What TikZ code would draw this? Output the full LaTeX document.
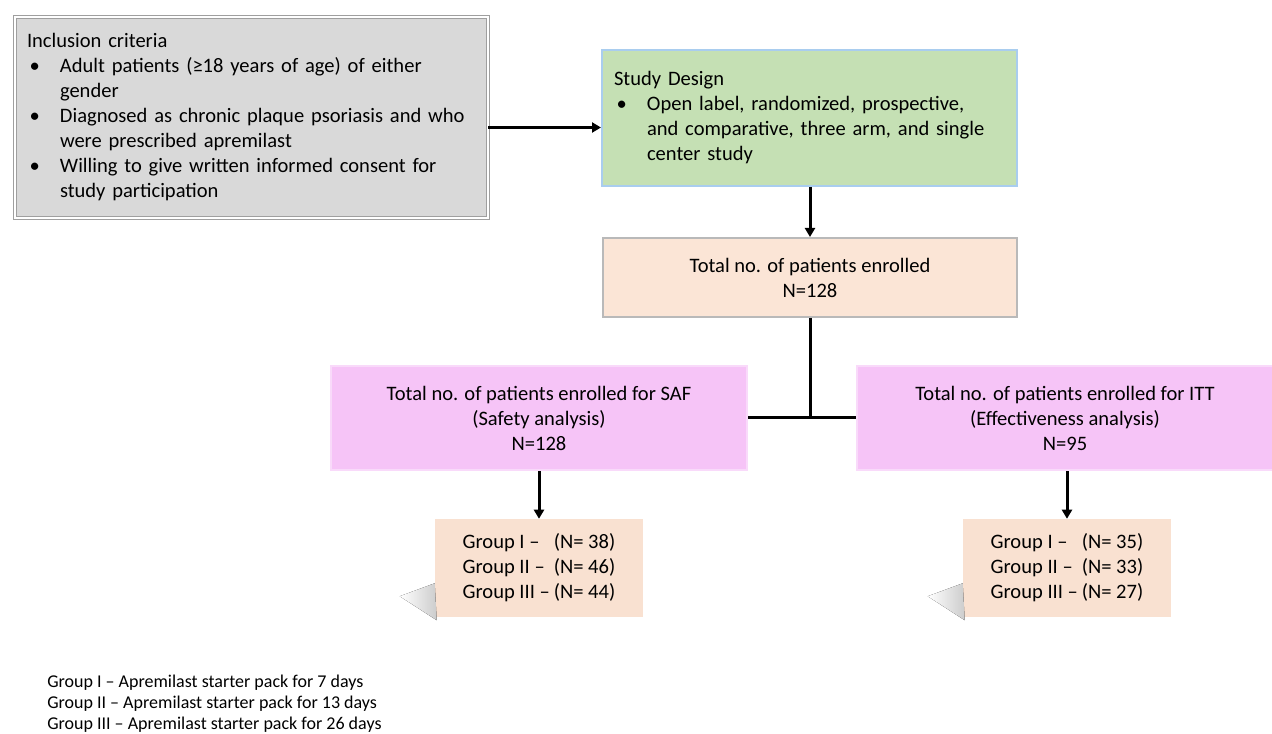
\documentclass[tikz,border=0pt]{standalone}
\usepackage{fontspec}
\setmainfont{Carlito}
\usetikzlibrary{arrows.meta,shadows,positioning}

\definecolor{critgray}{HTML}{D9D9D9}
\definecolor{designgreen}{HTML}{C5E0B4}
\definecolor{designedge}{HTML}{A9CDEF}
\definecolor{enrollpeach}{HTML}{FBE5D6}
\definecolor{analysispink}{HTML}{F6C4F7}
\definecolor{pinkglow}{HTML}{F9DAFA}
\definecolor{grouppeach}{HTML}{F9E1D1}

\begin{document}
\begin{tikzpicture}[x=0.75pt,y=-0.75pt,
  every node/.append style={font=\fontsize{15.4}{18.75}\selectfont, text=black},
  box/.style={rectangle, inner xsep=9pt, inner ysep=0pt},
  criteria/.style={box, fill=critgray, draw=gray!75, double=white, double distance=1.5pt,
    minimum width=354.75pt, minimum height=150.75pt, text width=336.75pt, align=left,
    drop shadow={shadow xshift=1.5pt, shadow yshift=-1.5pt, opacity=0.3}},
  design/.style={box, fill=designgreen, draw=designedge, line width=1.5pt,
    minimum width=311.25pt, minimum height=102pt, text width=293.25pt, align=left},
  enrolled/.style={box, fill=enrollpeach, draw=gray!55, line width=1.5pt,
    minimum width=310.5pt, minimum height=59.25pt, align=center},
  analysis/.style={box, fill=analysispink, draw=pinkglow, line width=2pt,
    minimum width=312pt, minimum height=78pt, align=center},
  groups/.style={box, fill=grouppeach, minimum width=156pt, minimum height=73.5pt},
  arrow/.style={draw, line width=2.25pt, -{Triangle[length=6.75pt,width=7.5pt]}},
  link/.style={draw, line width=2.25pt}]
\useasboundingbox (0,0) rectangle (1272,734);

\node[criteria] (incl) at (251.5,117.5) {%
  \begin{tabular}{@{}p{24.75pt}@{}l@{}}
  \multicolumn{2}{@{}l@{}}{Inclusion criteria}\\
  \hspace{2pt}\textbullet & Adult patients (≥18 years of age) of either\\
   & gender\\
  \hspace{2pt}\textbullet & Diagnosed as chronic plaque psoriasis and who\\
   & were prescribed apremilast\\
  \hspace{2pt}\textbullet & Willing to give written informed consent for\\
   & study participation
  \end{tabular}};

\node[design] (design) at (809.5,118) {%
  \begin{tabular}{@{}p{24.75pt}@{}l@{}}
  \multicolumn{2}{@{}l@{}}{Study Design}\\
  \hspace{2pt}\textbullet & Open label, randomized, prospective,\\
   & and comparative, three arm, and single\\
   & center study
  \end{tabular}};

\node[enrolled] (total) at (810,277.5) {Total no. of patients enrolled\\N=128};

\node[analysis] (saf) at (539,418) {Total no. of patients enrolled for SAF\\(Safety analysis)\\N=128};
\node[analysis] (itt) at (1065,418) {Total no. of patients enrolled for ITT\\(Effectiveness analysis)\\N=95};

\node[groups] (grpsaf) at (539,568) {%
  \begin{tabular}{@{}l@{\hspace{3pt}}l@{}}
  Group I -- & (N= 38)\\
  Group II -- & (N= 46)\\
  Group III -- & (N= 44)
  \end{tabular}};
\node[groups] (grpitt) at (1067,568) {%
  \begin{tabular}{@{}l@{\hspace{3pt}}l@{}}
  Group I -- & (N= 35)\\
  Group II -- & (N= 33)\\
  Group III -- & (N= 27)
  \end{tabular}};

% soft shadows at the foot of the group boxes
\foreach \g in {grpsaf,grpitt}
  \fill[left color=white, right color=gray!40]
    ([shift={(0,-34)}]\g.south west) -- ([shift={(-35,-21)}]\g.south west)
    -- ([shift={(2,3)}]\g.south west) -- cycle;

\node[anchor=west, align=left, inner sep=0pt, font=\fontsize{13.5}{15.75}\selectfont] (legend) at (47,704)
  {Group I -- Apremilast starter pack for 7 days\\
   Group II -- Apremilast starter pack for 13 days\\
   Group III -- Apremilast starter pack for 26 days};

\coordinate (inclout) at ([yshift=-7.5pt]incl.east);
\draw[arrow] (inclout) -- (inclout -| design.west);
\draw[arrow] (design.south -| total.north) -- (total.north);
\draw[link] (total.south) -- (total.south |- saf.east);
\draw[link] (saf.east) -- (itt.west);
\draw[arrow] (saf.south) -- (grpsaf.north);
\draw[arrow] (itt.south -| grpitt.north) -- (grpitt.north);
\end{tikzpicture}
\end{document}
